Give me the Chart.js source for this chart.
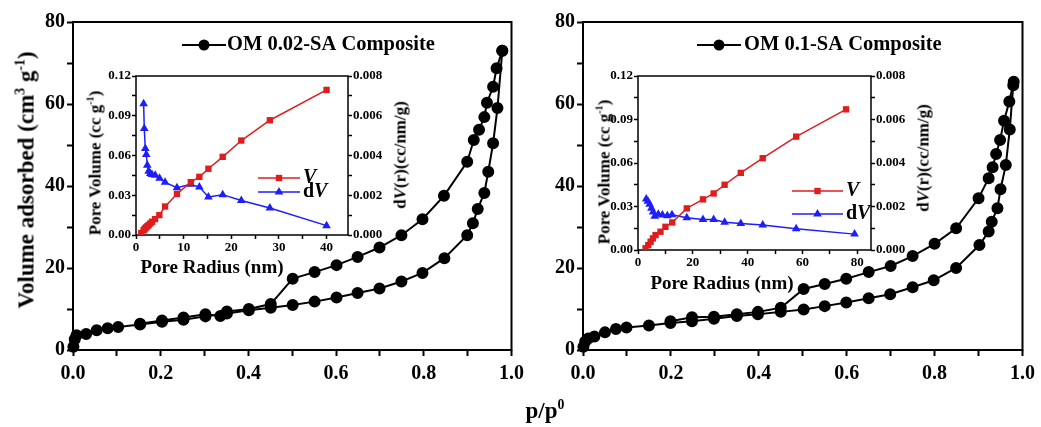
<!DOCTYPE html>
<html>
<head>
<meta charset="utf-8">
<script src="https://cdn.jsdelivr.net/npm/chart.js@4.4.0/dist/chart.umd.min.js"></script>
<style>
  body { margin: 0; background: #fff; }
  #wrap { position: relative; width: 1041px; height: 427px; overflow: hidden;
          font-family: 'Liberation Serif', 'Times New Roman', serif; font-weight: bold; color: #000; }
  canvas { position: absolute; }
  .lbl { position: absolute; white-space: nowrap; line-height: 1; transform: translate(-50%, -50%); }
  .rot { transform: translate(-50%, -50%) rotate(-90deg); }
  sup { font-size: 60%; vertical-align: 0.65em; line-height: 0; }
</style>
</head>
<body>
<div id="wrap">
  <canvas id="mainL" width="530" height="427" style="left:0;top:0"></canvas>
  <canvas id="mainR" width="511" height="427" style="left:530px;top:0"></canvas>
  <canvas id="insetL" width="335" height="205" style="left:80px;top:60px"></canvas>
  <canvas id="insetR" width="345" height="220" style="left:590px;top:60px"></canvas>

  <div class="lbl rot" style="left:26px;top:180px;font-size:23px">Volume adsorbed (cm<sup>3</sup> g<sup>-1</sup>)</div>
  <div class="lbl" style="left:545px;top:410px;font-size:23px">p/p<sup>0</sup></div>

  <div class="lbl rot" style="left:95px;top:163px;font-size:17px">Pore Volume (cc g<sup>-1</sup>)</div>
  <div class="lbl rot" style="left:400px;top:155px;font-size:17px">d<i>V</i>(r)(cc/nm/g)</div>
  <div class="lbl" style="left:212px;top:266px;font-size:19px">Pore Radius (nm)</div>

  <div class="lbl rot" style="left:604px;top:172px;font-size:17px">Pore Volume (cc g<sup>-1</sup>)</div>
  <div class="lbl rot" style="left:923px;top:158px;font-size:17px">d<i>V</i>(r)(cc/nm/g)</div>
  <div class="lbl" style="left:722px;top:282px;font-size:19px">Pore Radius (nm)</div>
</div>

<script>
// isotherm OM 0.02-SA (adsorption = lower branch, desorption = upper branch)
var pAdsL = [0.001, 0.004, 0.008, 0.03, 0.054, 0.079, 0.103, 0.153, 0.203, 0.252, 0.302, 0.351, 0.401, 0.451,
             0.501, 0.551, 0.601, 0.649, 0.699, 0.749, 0.797, 0.847, 0.899, 0.912, 0.923, 0.938, 0.947, 0.958, 0.968, 0.979];
var vAdsL = [0.8, 2.6, 3.6, 3.9, 4.8, 5.3, 5.6, 6.2, 6.9, 7.4, 8.2, 8.9, 9.7, 10.3,
             11.0, 11.8, 12.8, 13.9, 15.0, 16.7, 18.8, 22.4, 28.0, 30.9, 34.4, 38.3, 43.5, 50.4, 59.0, 73.0];
var pDesL = [0.979, 0.966, 0.958, 0.944, 0.938, 0.926, 0.914, 0.899, 0.846, 0.797, 0.749, 0.699, 0.649, 0.601,
             0.551, 0.501, 0.451, 0.401, 0.351, 0.336, 0.302, 0.252, 0.203, 0.153];
var vDesL = [73.0, 68.7, 64.2, 60.3, 56.8, 53.7, 51.2, 45.9, 37.6, 31.9, 28.0, 25.0, 22.7, 20.7,
             19.0, 17.4, 11.2, 10.0, 9.4, 8.3, 8.7, 7.9, 7.2, 6.4];

// isotherm OM 0.1-SA
var pAdsR = [0.001, 0.005, 0.012, 0.026, 0.05, 0.075, 0.099, 0.15, 0.199, 0.248, 0.298, 0.35, 0.398, 0.45,
             0.502, 0.55, 0.599, 0.65, 0.699, 0.75, 0.798, 0.849, 0.902, 0.923, 0.93, 0.943, 0.95, 0.962, 0.971, 0.979];
var vAdsR = [0.8, 2.1, 2.8, 3.3, 4.3, 5.1, 5.5, 6.0, 6.6, 7.0, 7.6, 8.3, 8.7, 9.3,
             9.9, 10.7, 11.6, 12.6, 13.6, 15.3, 17.0, 20.0, 25.6, 28.9, 31.3, 34.6, 39.2, 45.1, 53.8, 64.6];
var pDesR = [0.98, 0.97, 0.958, 0.949, 0.94, 0.932, 0.923, 0.90, 0.849, 0.80, 0.75, 0.70, 0.65, 0.599,
             0.55, 0.502, 0.45, 0.398, 0.35, 0.298, 0.248, 0.199];
var vDesR = [65.4, 60.6, 55.9, 51.2, 47.8, 44.6, 41.9, 37.0, 29.7, 25.9, 22.9, 20.5, 19.0, 17.4,
             16.1, 14.9, 10.3, 9.3, 8.7, 8.1, 8.0, 7.0];

// BJH insets, pore radius (nm)
var rVolL = [1.1, 1.6, 1.75, 1.95, 2.15, 2.4, 2.65, 3.0, 3.4, 4.0, 4.9, 6.1, 8.6, 11.5, 13.3, 15.2, 18.2, 22.1, 28.1, 40.0];
var poreVolL = [0.0015, 0.0035, 0.0042, 0.005, 0.0058, 0.0066, 0.0075, 0.0087, 0.010, 0.012, 0.015, 0.0215, 0.031,
                0.0399, 0.0439, 0.050, 0.059, 0.0713, 0.0866, 0.1095];
var rdVL = [1.6, 1.74, 1.95, 2.16, 2.37, 2.65, 3.0, 3.35, 4.04, 4.95, 6.1, 8.6, 11.5, 13.3, 15.2, 18.2, 22.1, 28.1, 40.0];
var dVL = [0.00661, 0.00536, 0.00435, 0.00405, 0.00351, 0.00321, 0.0031, 0.00305, 0.00301, 0.00285, 0.00265,
           0.00238, 0.00255, 0.00241, 0.00191, 0.00203, 0.00174, 0.00136, 0.00047];

var rVolR = [2.77, 3.75, 4.6, 5.45, 6.4, 8.2, 10.0, 12.5, 17.8, 23.7, 27.6, 31.6, 37.5, 45.5, 57.7, 75.9];
var poreVolR = [0.0012, 0.0034, 0.0057, 0.008, 0.0103, 0.0126, 0.016, 0.019, 0.0287, 0.0349, 0.039, 0.045,
                0.0532, 0.0633, 0.0782, 0.097];
var rdVR = [3.0, 3.6, 4.25, 4.9, 5.5, 6.1, 7.4, 8.9, 10.7, 12.4, 17.8, 23.7, 27.6, 31.6, 37.5, 45.5, 57.7, 79.0];
var dVR = [0.00234, 0.00224, 0.0021, 0.00192, 0.00175, 0.00155, 0.00164, 0.00161, 0.00158, 0.00162, 0.00148,
           0.0014, 0.0014, 0.00128, 0.00122, 0.00115, 0.00098, 0.00073];

// inset radius ticks (labelled ones are the multiples of the label step)
var radTicksL = [0, 5, 10, 15, 20, 25, 30, 35, 40];
var radTicksR = [0, 10, 20, 30, 40, 50, 60, 70, 80];

var RED = 'rgb(222,30,30)';
var BLUE = 'rgb(30,30,250)';

Chart.defaults.font.family = "'Liberation Serif', 'Times New Roman', serif";
Chart.defaults.font.weight = 'bold';
Chart.defaults.color = '#000';

function zip(xs, ys) {
  return xs.map(function (x, i) { return { x: x, y: ys[i] }; });
}

// box round the plot area
var frame = {
  id: 'frame',
  beforeDatasetsDraw: function (chart, args, opts) {
    var a = chart.chartArea, ctx = chart.ctx;
    ctx.save();
    ctx.lineWidth = opts.width;
    ctx.strokeStyle = '#000';
    ctx.strokeRect(a.left, a.top, a.right - a.left, a.bottom - a.top);
    ctx.restore();
  }
};

function marker(ctx, style, x, y, r) {
  ctx.beginPath();
  if (style === 'circle') {
    ctx.arc(x, y, r, 0, Math.PI * 2);
  } else if (style === 'rect') {
    var s = r * Math.SQRT1_2;
    ctx.rect(x - s, y - s, 2 * s, 2 * s);
  } else {
    ctx.moveTo(x, y - r);
    ctx.lineTo(x + r * 0.866, y + r * 0.5);
    ctx.lineTo(x - r * 0.866, y + r * 0.5);
    ctx.closePath();
  }
  ctx.fill();
}

// line + marker legend entries
var keys = {
  id: 'keys',
  afterDraw: function (chart, args, opts) {
    var ctx = chart.ctx;
    (opts.items || []).forEach(function (it) {
      ctx.save();
      ctx.strokeStyle = it.color;
      ctx.fillStyle = it.color;
      ctx.lineWidth = it.lw;
      ctx.beginPath();
      ctx.moveTo(it.x, it.y);
      ctx.lineTo(it.x + it.len, it.y);
      ctx.stroke();
      marker(ctx, it.style, it.x + it.len / 2, it.y, it.r);
      ctx.fillStyle = '#000';
      ctx.textBaseline = 'middle';
      var tx = it.tx;
      it.text.forEach(function (part) {
        ctx.font = (part[1] ? 'italic ' : '') + 'bold ' + it.size + "px 'Liberation Serif', serif";
        ctx.fillText(part[0], tx, it.y);
        tx += ctx.measureText(part[0]).width;
      });
      ctx.restore();
    });
  }
};

function tickGrid() {
  return { drawOnChartArea: false, tickLength: 6, tickWidth: 2, tickColor: '#000' };
}

function mainChart(id, ads, des, yWidth, padRight, legend) {
  var line = { showLine: true, borderColor: '#000', backgroundColor: '#000', borderWidth: 2,
               pointRadius: 5, pointStyle: 'circle', clip: false };
  return new Chart(document.getElementById(id), {
    type: 'scatter',
    data: {
      datasets: [
        Object.assign({ label: 'adsorption', data: ads }, line),
        Object.assign({ label: 'desorption', data: des }, line)
      ]
    },
    options: {
      responsive: false,
      animation: false,
      layout: { padding: { left: 0, right: padRight, top: 22, bottom: 0 } },
      plugins: { legend: { display: false }, tooltip: { enabled: false },
                 frame: { width: 2 }, keys: { items: [legend] } },
      scales: {
        x: {
          type: 'linear', min: 0, max: 1,
          afterFit: function (s) { s.height = 77; },
          grid: tickGrid(), border: { display: false },
          ticks: { stepSize: 0.1, autoSkip: false, maxRotation: 0, padding: 6, font: { size: 20 },
                   callback: function (v, i) { return i % 2 ? '' : v.toFixed(1); } }
        },
        y: {
          min: 0, max: 80,
          afterFit: function (s) { s.width = yWidth; },
          grid: tickGrid(), border: { display: false },
          ticks: { stepSize: 10, autoSkip: false, padding: 2, font: { size: 20 },
                   callback: function (v, i) { return i % 2 ? '' : v; } }
        }
      }
    },
    plugins: [frame, keys]
  });
}

function insetChart(id, vol, dv, xMax, radTicks, yWidth, y2Width, legendX, legendLen, legendTx, legendY, legendGap) {
  var small = { drawOnChartArea: false, tickLength: 4, tickWidth: 1.5, tickColor: '#000' };
  return new Chart(document.getElementById(id), {
    type: 'scatter',
    data: {
      datasets: [
        { label: 'V', data: vol, yAxisID: 'y', showLine: true, borderColor: RED, backgroundColor: RED,
          borderWidth: 1.5, pointStyle: 'rect', pointRadius: 4.5, pointBorderWidth: 0 },
        { label: 'dV', data: dv, yAxisID: 'y2', showLine: true, borderColor: BLUE, backgroundColor: BLUE,
          borderWidth: 1.5, pointStyle: 'triangle', pointRadius: 5, pointBorderWidth: 0 }
      ]
    },
    options: {
      responsive: false,
      animation: false,
      layout: { padding: { left: 0, right: 0, top: 16, bottom: 0 } },
      plugins: {
        legend: { display: false }, tooltip: { enabled: false }, frame: { width: 1.5 },
        keys: { items: [
          { x: legendX, y: legendY, len: legendLen, color: RED, lw: 1.5, style: 'rect', r: 4.5,
            tx: legendTx, size: 20, text: [['V', true]] },
          { x: legendX, y: legendY + legendGap, len: legendLen, color: BLUE, lw: 1.5, style: 'tri', r: 5,
            tx: legendTx, size: 20, text: [['d', false], ['V', true]] }
        ] }
      },
      scales: {
        x: {
          type: 'linear', min: 0, max: xMax,
          afterFit: function (s) { s.height = 30; },
          afterBuildTicks: function (s) { s.ticks = radTicks.map(function (v) { return { value: v }; }); },
          grid: small, border: { display: false },
          ticks: { autoSkip: false, maxRotation: 0, padding: 1, font: { size: 13 },
                   callback: function (v, i) { return i % 2 ? '' : v; } }
        },
        y: {
          min: 0, max: 0.12,
          afterFit: function (s) { s.width = yWidth; },
          grid: small, border: { display: false },
          ticks: { stepSize: 0.015, autoSkip: false, padding: 1, font: { size: 13 },
                   callback: function (v, i) { return i % 2 ? '' : v.toFixed(2); } }
        },
        y2: {
          position: 'right', min: 0, max: 0.008,
          afterFit: function (s) { s.width = y2Width; },
          grid: small, border: { display: false },
          ticks: { stepSize: 0.001, autoSkip: false, padding: 1, font: { size: 13 },
                   callback: function (v, i) { return i % 2 ? '' : v.toFixed(3); } }
        }
      }
    },
    plugins: [frame, keys]
  });
}

mainChart('mainL', zip(pAdsL, vAdsL), zip(pDesL, vDesL), 73, 10,
  { x: 182, y: 45, len: 44, color: '#000', lw: 2, style: 'circle', r: 5.5, tx: 227, size: 20.5,
    text: [['OM 0.02-SA Composite', false]] });
mainChart('mainR', zip(pAdsR, vAdsR), zip(pDesR, vDesR), 53, 15,
  { x: 167, y: 45, len: 44, color: '#000', lw: 2, style: 'circle', r: 5.5, tx: 214, size: 20.5,
    text: [['OM 0.1-SA Composite', false]] });

insetChart('insetL', zip(rVolL, poreVolL), zip(rdVL, dVL), 44.5, radTicksL, 56, 67, 178, 42, 223, 118, 14);
insetChart('insetR', zip(rVolR, poreVolR), zip(rdVR, dVR), 85, radTicksR, 48, 64, 202, 51, 256, 131, 23);
</script>
</body>
</html>
